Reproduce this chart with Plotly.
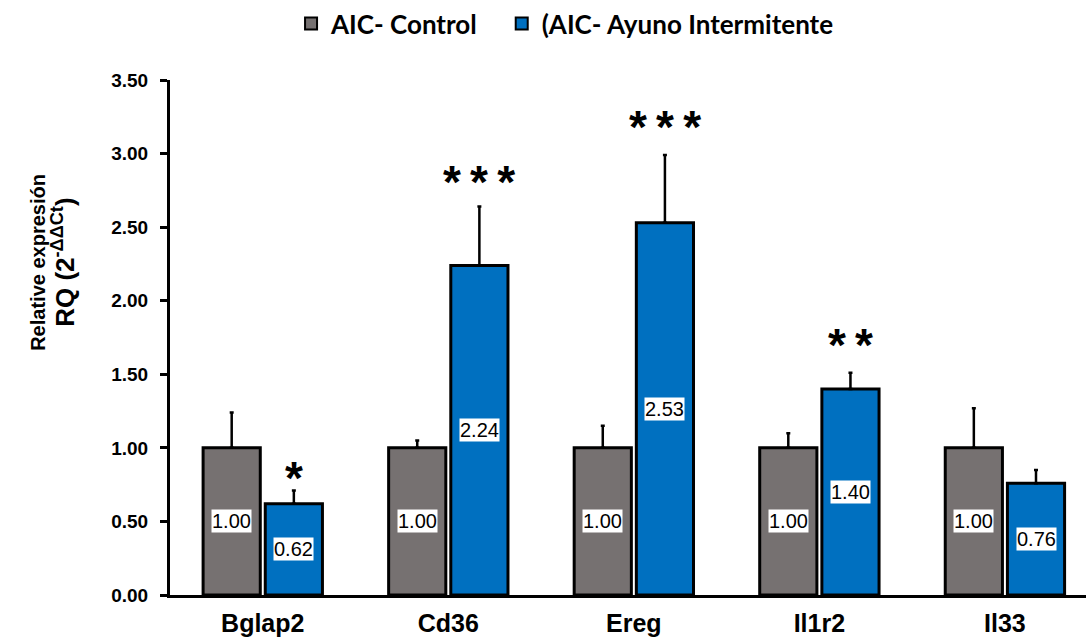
import plotly.graph_objects as go

genes = ["Bglap2", "Cd36", "Ereg", "Il1r2", "Il33"]
control_vals = [1.00, 1.00, 1.00, 1.00, 1.00]
control_err = [0.24, 0.05, 0.15, 0.10, 0.27]
fasting_vals = [0.62, 2.24, 2.53, 1.40, 0.76]
fasting_err = [0.09, 0.40, 0.46, 0.11, 0.09]
signif = ["*", "*\u2009*\u2009*", "*\u2009*\u2009*", "*\u2009*", ""]
signif_y = [0.835, 2.845, 3.22, 1.74, None]
yticks = [0.0, 0.5, 1.0, 1.5, 2.0, 2.5, 3.0, 3.5]

GRAY = "#767171"
BLUE = "#0070C0"
BARGAP = 0.33
GROUPGAP = 0.08

fig = go.Figure()
fig.add_trace(go.Bar(
    name="AIC- Control\u00a0\u00a0\u00a0", x=genes, y=control_vals,
    marker=dict(color=GRAY, line=dict(color="black", width=3)),
    error_y=dict(type="data", array=control_err, arrayminus=[0]*5, symmetric=False,
                 color="black", thickness=2.5, width=2),
))
fig.add_trace(go.Bar(
    name="(AIC- Ayuno Intermitente", x=genes, y=fasting_vals,
    marker=dict(color=BLUE, line=dict(color="black", width=3)),
    error_y=dict(type="data", array=fasting_err, arrayminus=[0]*5, symmetric=False,
                 color="black", thickness=2.5, width=2),
))

slot = (1 - BARGAP) / 2
off = slot / 2
annotations = []
for i, g in enumerate(genes):
    for vals, sign in ((control_vals, -1), (fasting_vals, 1)):
        v = vals[i]
        annotations.append(dict(
            x=i + sign * off, y=v / 2, xref="x", yref="y", text=f"{v:.2f}",
            showarrow=False, bgcolor="white", borderpad=0,
            font=dict(family="Liberation Sans, Arial", size=20, color="black"),
        ))
    if signif[i]:
        annotations.append(dict(
            x=i + off, y=signif_y[i], xref="x", yref="y", text=signif[i],
            showarrow=False, yanchor="middle", yshift=-6,
            font=dict(family="Liberation Sans, Arial", size=46, color="black", weight="bold"),
        ))

annotations.append(dict(
    x=0, y=0.645, xref="paper", yref="paper", xanchor="center", yanchor="middle",
    xshift=-132, textangle=-90, showarrow=False,
    text="Relative expresión",
    font=dict(family="Liberation Sans, Arial", size=20, color="black", weight="bold"),
))
annotations.append(dict(
    x=0, y=0.645, xref="paper", yref="paper", xanchor="center", yanchor="middle",
    xshift=-106, textangle=-90, showarrow=False,
    text="RQ (2<sup>-ΔΔCt</sup>)",
    font=dict(family="Liberation Sans, Arial", size=26, color="black", weight="bold"),
))

fig.update_layout(
    width=1086, height=639,
    margin=dict(l=170, r=0, t=80, b=44),
    plot_bgcolor="white", paper_bgcolor="white",
    barmode="group", bargap=BARGAP, bargroupgap=GROUPGAP,
    showlegend=True,
    legend=dict(orientation="h", xref="container", yref="container",
                x=0.268, xanchor="left", y=1.0, yanchor="top",
                font=dict(family="Lato", size=26, color="black", weight="bold"),
                itemsizing="constant"),
    annotations=annotations,
    xaxis=dict(categoryorder="array", categoryarray=genes, range=[-0.5, 4.437],
               showline=True, linecolor="black", linewidth=2.5, ticks="",
               showgrid=False, zeroline=False, ticklabelstandoff=4,
               tickfont=dict(family="Liberation Sans, Arial", size=25, color="black", weight="bold")),
    yaxis=dict(range=[0, 3.5], tickvals=yticks, tickformat=".2f",
               ticks="outside", ticklen=7, tickwidth=2.5, tickcolor="black",
               ticklabelstandoff=8,
               showline=True, linecolor="black", linewidth=3, showgrid=False, zeroline=False,
               tickfont=dict(family="Liberation Sans, Arial", size=19, color="black", weight="bold")),
    yaxis2=dict(range=[0, 3.5], overlaying="y", side="left", tickvals=yticks,
                ticks="inside", ticklen=6, tickwidth=2.5, tickcolor="black",
                showticklabels=False, showline=False, showgrid=False, zeroline=False),
)

fig.write_html("out.html")
